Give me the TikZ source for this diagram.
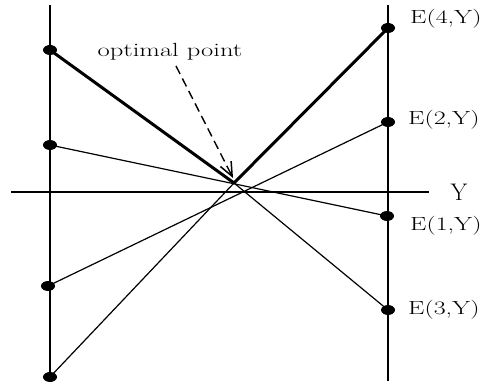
\documentclass[tikz,border=0pt]{standalone}
\usetikzlibrary{shapes.geometric,arrows.meta}
\begin{document}
\begin{tikzpicture}[x=1pt,y=-1pt,
  dot/.style={ellipse,fill=black,inner sep=0pt,minimum width=14pt,minimum height=10pt},
  elabel/.style={anchor=west,inner sep=0pt,font=\fontsize{19}{21}\selectfont},
  axisline/.style={line width=1.3pt},
  thinline/.style={line width=1.2pt},
  thickline/.style={line width=3pt},
  vline/.style={line width=2pt}]
\useasboundingbox (0,0) rectangle (484,387);
% dots
\node[dot] (L1) at (50,50) {};
\node[dot] (L2) at (50,145) {};
\node[dot] (L3) at (48,286) {};
\node[dot] (L4) at (50,377) {};
\node[dot] (R4) at (388,28) {};
\node[dot] (R2) at (388,122) {};
\node[dot] (R1) at (387,216) {};
\node[dot] (R3) at (388,310) {};
% vertical lines and axis
\coordinate (LT) at (50,5);
\coordinate (RT) at (388,5);
\coordinate (RB) at (388,381);
\coordinate (AL) at (11,192);
\coordinate (AR) at (429,192);
\draw[vline] (LT) -- (L4.center);
\draw[vline] (RT) -- (RB);
\draw[axisline] (AL) -- (AR);
\node[inner sep=0pt,font=\fontsize{24}{26}\selectfont] (Ylab) at (459,192) {Y};
% lines
\coordinate (V) at (234,183);
\draw[thickline,line cap=round] (L1.center) -- (V);
\draw[thinline] (V) -- (R3.center);
\draw[thinline] (L4.center) -- (V);
\draw[thickline,line cap=round] (V) -- (R4.center);
\draw[thinline] (L2.center) -- (R1.center);
\draw[thinline] (L3.center) -- (R2.center);
% labels
\node[elabel] (e4) at (410,19) {\scalebox{1.37}[1]{E(4,Y)}};
\node[elabel] (e2) at (408,120) {\scalebox{1.37}[1]{E(2,Y)}};
\node[elabel] (e1) at (410,226) {\scalebox{1.37}[1]{E(1,Y)}};
\node[elabel] (e3) at (408,310) {\scalebox{1.37}[1]{E(3,Y)}};
\node[inner sep=0pt,font=\fontsize{19}{21}\selectfont] (opt) at (170,52) {\scalebox{1.4}[1]{optimal point}};
\coordinate (DS) at (176,66);
\coordinate (DE) at (233,178);
\draw[line width=1.4pt,dash pattern=on 9pt off 5pt,-{Straight Barb[length=14pt,width=12pt,line width=1.5pt]}] (DS) -- (DE);
\end{tikzpicture}
\end{document}
